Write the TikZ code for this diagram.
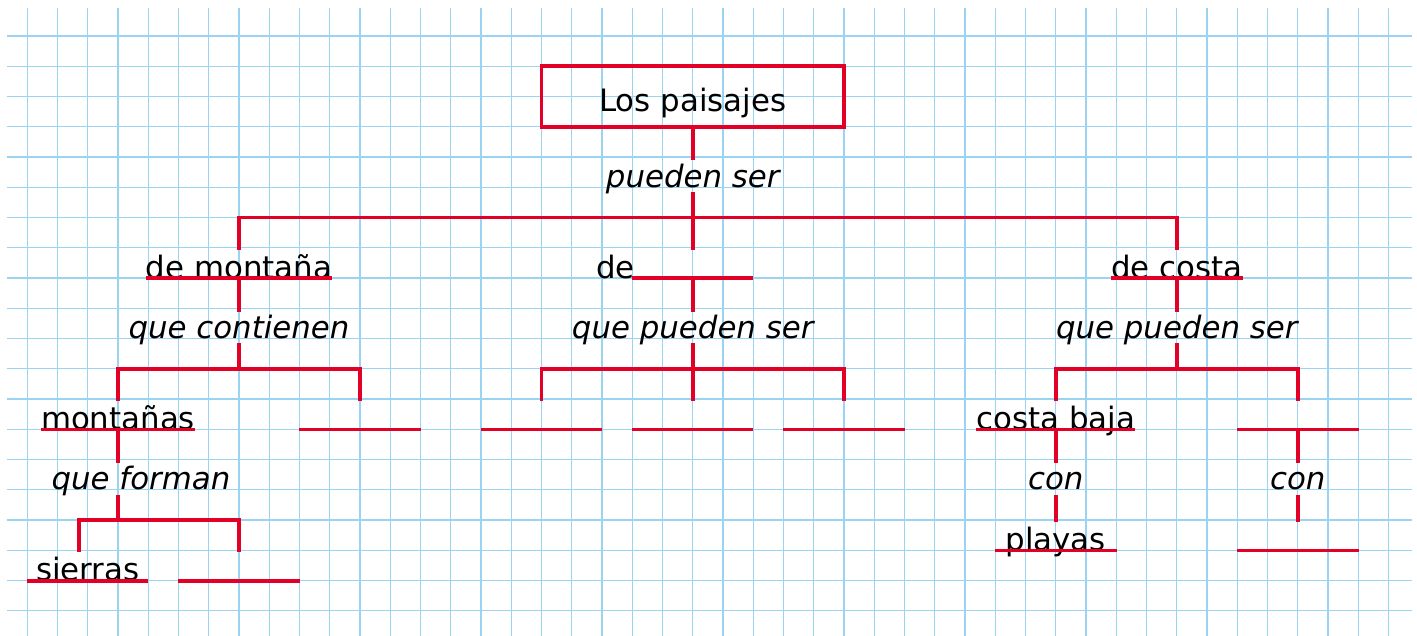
\documentclass[tikz,border=0pt]{standalone}
\usepackage{fontspec}
\setmainfont{DejaVu Sans}
\definecolor{mapred}{RGB}{226,0,38}
\definecolor{gridblue}{RGB}{155,212,242}
\newcommand{\mapsize}{\fontsize{29}{34}\selectfont}

\begin{document}
\begin{tikzpicture}[
    gridline/.style={line width=1.2pt, draw=gridblue},
    redline/.style={line width=3.6pt, draw=mapred},
    slot/.style={inner sep=0pt, minimum width=4cm, text height=0.92cm, text depth=0pt, anchor=base, font=\mapsize},
    link/.style={inner sep=0pt, text height=0.88cm, text depth=0.15cm, anchor=base, font=\mapsize\itshape},
  ]
  \fill[white] (-0.9,-19.83) rectangle (45.94,1.19);
  \useasboundingbox (-0.9,-19.83) rectangle (45.94,1.19);

  % squared paper
  \foreach \j in {0,...,19}
    \draw[gridline] (-0.67,-\j) -- (45.78,-\j);
  \foreach \i in {0,...,45}
    \draw[gridline] (\i,0.93) -- (\i,-19.83);

  % title
  \node[draw=mapred, line width=3.6pt, minimum width=10cm, minimum height=2cm,
        text height=1.2cm, text depth=0.24cm, font=\mapsize] (root) at (22,-2) {Los paisajes};
  \node[link] (pueden) at (22,-5) {pueden ser};

  % first level
  \node[slot] (montana) at (7,-8) {de monta\~na};
  \node[slot] (demid) at (22,-8) {};
  \node[anchor=base east, inner sep=0pt, font=\mapsize] (de) at ([xshift=0.1cm]demid.south west) {de};
  \node[slot] (costa) at (38,-8) {de costa};

  \node[link] (contienen) at (7,-10) {que contienen};
  \node[link] (midpueden) at (22,-10) {que pueden ser};
  \node[link] (costapueden) at (38,-10) {que pueden ser};

  % second level
  \node[slot] (montanas) at (3,-13) {monta\~nas};
  \node[slot] (slotLb) at (11,-13) {};
  \node[slot] (mida) at (17,-13) {};
  \node[slot] (midb) at (22,-13) {};
  \node[slot] (midc) at (27,-13) {};
  \node[slot] (costabaja) at (34,-13) {costa baja};
  \node[slot] (slotRb) at (42,-13) {};

  \node[link] (forman) at (3.76,-15) {que forman};
  \node[link] (conL) at (34,-15) {con};
  \node[link] (conR) at (42,-15) {con};

  % third level
  \node[slot] (sierras) at (2,-18) {sierras};
  \node[slot] (slotFb) at (7,-18) {};
  \node[slot] (playas) at (34,-17) {playas};
  \node[slot] (slotRc) at (42,-17) {};

  \coordinate (split) at (22,-6);
  \coordinate (splitL) at (7,-11);
  \coordinate (splitM) at (22,-11);
  \coordinate (splitR) at (38,-11);
  \coordinate (splitF) at (3,-16);

  % underlines
  \foreach \s in {montana,demid,costa,montanas,slotLb,mida,midb,midc,costabaja,slotRb,sierras,slotFb,playas,slotRc}
    \draw[redline] (\s.south west) -- (\s.south east);

  % connectors
  \draw[redline] (root.south) -- (pueden.north);
  \draw[redline] (pueden.south) -- (split) -- (demid.north);
  \draw[redline] (montana.north) |- (split) -| (costa.north);

  \draw[redline] (montana.south) -- (contienen.north);
  \draw[redline] (contienen.south) -- (splitL);
  \draw[redline] (montanas.north) |- (splitL) -| (slotLb.north);

  \draw[redline] (demid.south) -- (midpueden.north);
  \draw[redline] (midpueden.south) -- (splitM) -- (midb.north);
  \draw[redline] (mida.north) |- (splitM) -| (midc.north);

  \draw[redline] (costa.south) -- (costapueden.north);
  \draw[redline] (costapueden.south) -- (splitR);
  \draw[redline] (costabaja.north) |- (splitR) -| (slotRb.north);

  \draw[redline] (montanas.south) -- (montanas.south |- forman.north);
  \draw[redline] (montanas.south |- forman.south) -- (splitF);
  \draw[redline] ([xshift=-0.3cm]sierras.north) |- (splitF) -| (slotFb.north);

  \draw[redline] (costabaja.south) -- (conL.north);
  \draw[redline] (conL.south) -- (playas.north);
  \draw[redline] (slotRb.south) -- (conR.north);
  \draw[redline] (conR.south) -- (slotRc.north);
\end{tikzpicture}
\end{document}
